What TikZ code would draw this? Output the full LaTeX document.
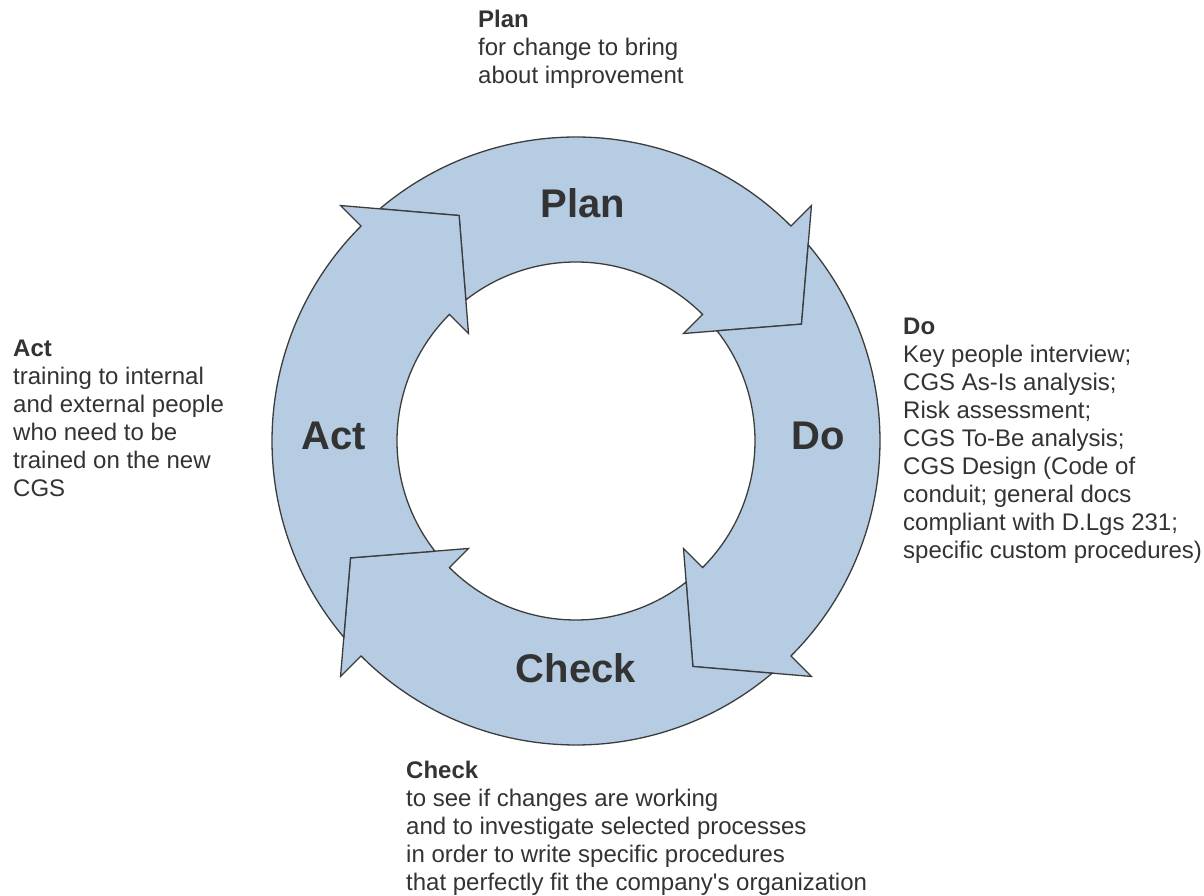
\documentclass[tikz,border=0pt]{standalone}
\usepackage{fontspec}
\setmainfont{Liberation Sans}[Ligatures=TeXOff]
\usepackage{tikz}
\usetikzlibrary{positioning}
\definecolor{ringblue}{HTML}{B5CCE3}
\definecolor{ringline}{HTML}{3C3C3C}
\definecolor{txtgray}{HTML}{333333}

\begin{document}
\begin{tikzpicture}[
    x=1pt, y=1pt,
    font=\fontsize{24}{28}\selectfont,
    ringarrow/.style = {fill=ringblue, draw=ringline, line width=1.3pt, line join=miter},
    ringlbl/.style   = {font=\fontsize{40}{44}\selectfont\bfseries, text=txtgray, inner sep=0pt},
    desc/.style      = {align=left, anchor=north west, text=txtgray, inner sep=0pt},
]
\useasboundingbox (-576,441) rectangle (628,-455);

% ---------------- cycle arrows (head angle of each) ----------------
\foreach \ha in {45,-45,-135,-225}{
    \pgfmathsetmacro{\pa}{\ha+90}
    \draw[ringarrow] ({\pa-4.8}:304) arc[start angle=\pa-4.8, end angle=\ha, radius=304]
        -- (\ha:333) -- ({\ha-17.6}:254) -- (\ha:152) -- (\ha:179)
        arc[start angle=\ha, end angle=\pa-7, radius=179]
        -- ({\pa-17.6}:254) -- cycle;
}

% ---------------- ring labels ----------------
\node[ringlbl] (plan)  at (7,238)   {Plan};
\node[ringlbl] (do)    at (242,5)   {Do};
\node[ringlbl] (check) at (0,-227)  {Check};
\node[ringlbl] (act)   at (-242,5)  {Act};

% ---------------- descriptions ----------------
\node[desc] (plantxt) at (-98,431)
    {\textbf{Plan}\\for change to bring\\about improvement};
\node[desc] (dotxt) at (327,123)
    {\textbf{Do}\\Key people interview;\\CGS As-Is analysis;\\Risk assessment;\\CGS To-Be analysis;\\CGS Design (Code of\\conduit; general docs\\compliant with D.Lgs 231;\\specific custom procedures)};
\node[desc] (checktxt) at (-170,-320)
    {\textbf{Check}\\to see if changes are working\\and to investigate selected processes\\in order to write specific procedures\\that perfectly fit the company's organization};
\node[desc] (acttxt) at (-563,101)
    {\textbf{Act}\\training to internal\\and external people\\who need to be\\trained on the new\\CGS};

\end{tikzpicture}
\end{document}
